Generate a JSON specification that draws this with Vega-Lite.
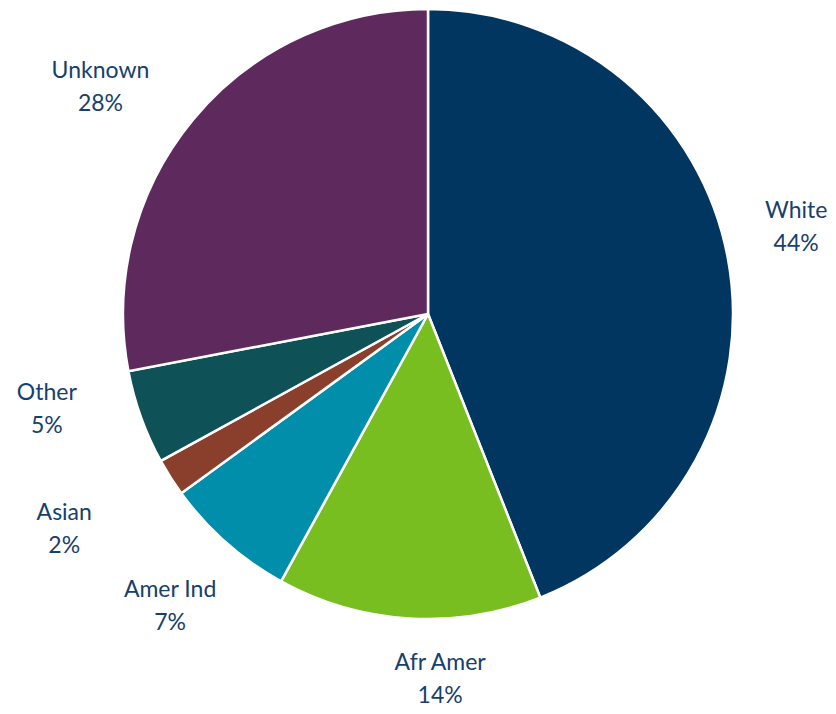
{
  "$schema": "https://vega.github.io/schema/vega-lite/v6.json",
  "width": 856,
  "height": 628,
  "autosize": "none",
  "padding": {"left": 0, "top": 0, "right": 0, "bottom": 100},
  "background": "white",
  "view": {"stroke": null},
  "config": {
    "text": {
      "font": "Lato",
      "fontSize": 23,
      "lineHeight": 33,
      "lineBreak": "\n",
      "align": "center",
      "baseline": "middle",
      "dy": -17,
      "color": "#17406D"
    }
  },
  "data": {
    "values": [
      {"group": "White", "pct": 44, "ord": 1, "label": "White\n44%"},
      {"group": "Afr Amer", "pct": 14, "ord": 2, "label": "Afr Amer\n14%"},
      {"group": "Amer Ind", "pct": 7, "ord": 3, "label": "Amer Ind\n7%"},
      {"group": "Asian", "pct": 2, "ord": 4, "label": "Asian\n2%"},
      {"group": "Other", "pct": 5, "ord": 5, "label": "Other\n5%"},
      {"group": "Unknown", "pct": 28, "ord": 6, "label": "Unknown\n28%"}
    ]
  },
  "encoding": {
    "theta": {"field": "pct", "type": "quantitative", "stack": true},
    "order": {"field": "ord", "type": "quantitative"}
  },
  "layer": [
    {
      "mark": {"type": "arc", "outerRadius": 305, "stroke": "white", "strokeWidth": 2.5},
      "encoding": {
        "color": {
          "field": "group",
          "type": "nominal",
          "scale": {
            "domain": ["White", "Afr Amer", "Amer Ind", "Asian", "Other", "Unknown"],
            "range": ["#003660", "#78BE21", "#008EAA", "#8A3F2C", "#0E5257", "#5E2A5E"]
          },
          "legend": null
        }
      }
    },
    {
      "mark": {"type": "text", "radius": 378, "thetaOffset": -0.04, "opacity": {"expr": "datum.group === 'White' ? 1 : 0"}},
      "encoding": {"text": {"field": "label", "type": "nominal"}}
    },
    {
      "mark": {"type": "text", "radius": 390, "opacity": {"expr": "datum.group === 'Amer Ind' ? 1 : 0"}},
      "encoding": {"text": {"field": "label", "type": "nominal"}}
    },
    {
      "mark": {"type": "text", "radius": 398, "thetaOffset": -0.087, "opacity": {"expr": "datum.group === 'Unknown' ? 1 : 0"}},
      "encoding": {"text": {"field": "label", "type": "nominal"}}
    },
    {
      "mark": {"type": "text", "radius": 393, "thetaOffset": 0.1, "opacity": {"expr": "datum.group === 'Other' ? 1 : 0"}},
      "encoding": {"text": {"field": "label", "type": "nominal"}}
    },
    {
      "mark": {"type": "text", "radius": 423, "thetaOffset": 0.03, "opacity": {"expr": "datum.group === 'Asian' ? 1 : 0"}},
      "encoding": {"text": {"field": "label", "type": "nominal"}}
    },
    {
      "mark": {"type": "text", "radius": 366, "thetaOffset": -0.096, "opacity": {"expr": "datum.group === 'Afr Amer' ? 1 : 0"}},
      "encoding": {"text": {"field": "label", "type": "nominal"}}
    }
  ]
}
